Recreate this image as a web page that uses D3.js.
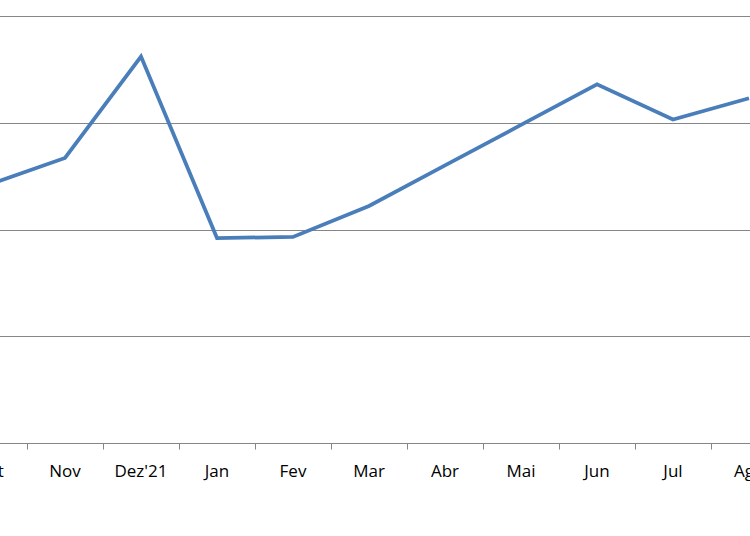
<!DOCTYPE html>
<html><head><meta charset="utf-8">
<script src="https://cdn.jsdelivr.net/npm/d3@7"></script>
<style>body{margin:0;background:#fff}svg{display:block}</style>
</head><body>
<script>
const categories = ["Out","Nov","Dez'21","Jan","Fev","Mar","Abr","Mai","Jun","Jul","Ago"];
const values = [2.42,2.67,3.62,1.92,1.93,2.22,2.60,2.98,3.36,3.03,3.23];
const yTicks = [0,1,2,3,4];

const W=750,H=536;
const svg=d3.select("body").append("svg").attr("width",W).attr("height",H);
const x=d3.scaleBand().domain(categories).range([-49,787]).padding(0);
const y=d3.scaleLinear().domain([0,4]).range([443,16]);

// gridlines
svg.append("g").selectAll("line").data(yTicks.slice(1)).join("line")
  .attr("x1",0).attr("x2",W).attr("y1",d=>Math.round(y(d))+0.5).attr("y2",d=>Math.round(y(d))+0.5)
  .attr("stroke","#868686").attr("stroke-width",1);

// x axis
const ax=svg.append("g").attr("transform","translate(0,443.5)")
  .call(d3.axisBottom(x).tickSize(0).tickPadding(21));
ax.select(".domain").remove();
ax.append("line").attr("x1",0).attr("x2",W).attr("stroke","#868686");
ax.selectAll(".tick text").attr("font-family","'Open Sans', sans-serif").attr("font-size","17px").attr("fill","#000");
// category boundary ticks
const bounds=categories.slice(1).map(c=>x(c));
ax.append("g").selectAll("line").data(bounds).join("line")
  .attr("x1",d=>Math.round(d)+0.5).attr("x2",d=>Math.round(d)+0.5).attr("y1",0).attr("y2",6)
  .attr("stroke","#868686");

// line
const line=d3.line().x((d,i)=>x(categories[i])+x.bandwidth()/2).y(d=>y(d));
svg.append("path").datum(values).attr("d",line).attr("fill","none")
  .attr("stroke","#4A7EBB").attr("stroke-width",3.75).attr("stroke-linejoin","miter");
</script>
</body></html>
